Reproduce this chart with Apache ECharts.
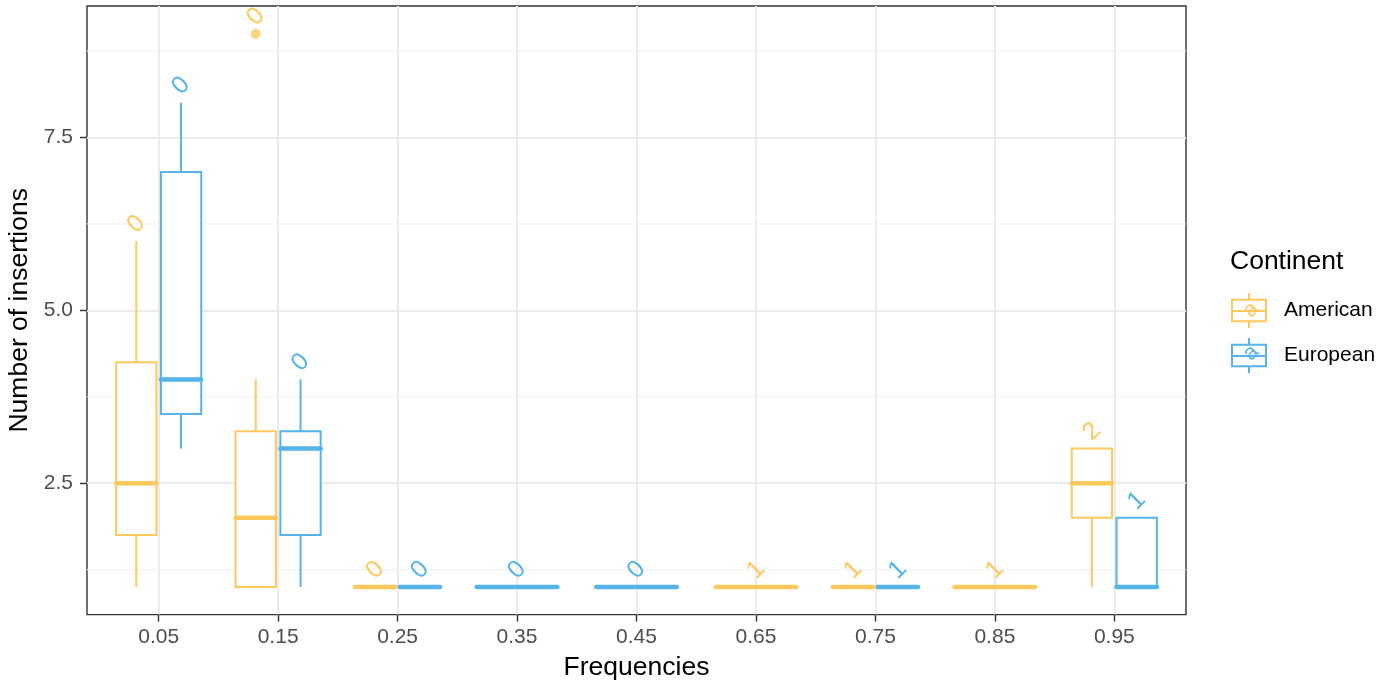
<!DOCTYPE html>
<html>
<head>
<meta charset="utf-8">
<script src="https://cdn.jsdelivr.net/npm/echarts@6/dist/echarts.min.js"></script>
<style>html,body{margin:0;padding:0;background:#fff}#c{width:1393px;height:684px}</style>
</head>
<body>
<div id="c"></div>
<script>
// ---------------- data ----------------
const categories = ['0.05','0.15','0.25','0.35','0.45','0.65','0.75','0.85','0.95'];
const groupNames = ['American','European'];
// [min, q1, median, q3, max] per category; null = group absent
const americanBoxes = [[1,1.75,2.5,4.25,6],[1,1,2,3.25,4],[1,1,1,1,1],null,null,[1,1,1,1,1],[1,1,1,1,1],[1,1,1,1,1],[1,2,2.5,3,3]];
const europeanBoxes = [[3,3.5,4,7,8],[1,1.75,3,3.25,4],[1,1,1,1,1],[1,1,1,1,1],[1,1,1,1,1],null,[1,1,1,1,1],null,[1,1,1,2,2]];
const americanLabels = ['0','0','0',null,null,'1','1','1','2'];
const europeanLabels = ['0','0','0','0','0',null,'1',null,'1'];
const americanOutliers = [['0.15', 9]];
const europeanOutliers = [];
const yTicks = [2.5, 5.0, 7.5];
const yMinorGrid = [1.25, 3.75, 6.25, 8.75];
const yRange = [0.6, 9.4];
const xRange = [-0.6, 8.6];

// ---------------- styles ----------------
const COLORS = {American: '#FFC85C', European: '#56B4E9'};
const FONT = '"Liberation Sans", Arial, Helvetica, sans-serif';
const DODGE = 0.75, PAD = 0.1;

const allBoxes = [americanBoxes, europeanBoxes];
function buildItems(boxes, labels, outliers, gi) {
  const out = [];
  boxes.forEach((b, i) => {
    if (!b) return;
    const present = allBoxes.filter(bx => bx[i]).length;
    const idx = present === 1 ? 0 : gi;
    const slot = DODGE / present;
    const center = i - DODGE / 2 + slot * (idx + 0.5);
    const hw = slot * (1 - PAD) / 2;
    const outl = outliers.filter(o => o[0] === categories[i]).map(o => o[1]);
    const top = Math.max(b[4], ...outl);
    out.push({num: [center, b[0], b[1], b[2], b[3], b[4], hw, top], label: labels[i], outl: outl, center: center});
  });
  return out;
}
const amItems = buildItems(americanBoxes, americanLabels, americanOutliers, 0);
const euItems = buildItems(europeanBoxes, europeanLabels, europeanOutliers, 1);

function makeRender(items, color) {
  return function (params, api) {
    const it = items[params.dataIndex];
    const [cx, mn, q1, md, q3, mx, hw, top] = it.num;
    const pc = v => api.coord([cx, v]);
    const ls = {stroke: color, lineWidth: 2, fill: null};
    const children = [];
    const a = pc(mx), b = pc(q3), c = pc(q1), d = pc(mn);
    children.push({type: 'line', shape: {x1: a[0], y1: a[1], x2: b[0], y2: b[1]}, style: ls});
    children.push({type: 'line', shape: {x1: c[0], y1: c[1], x2: d[0], y2: d[1]}, style: ls});
    const tl = api.coord([cx - hw, q3]), br = api.coord([cx + hw, q1]);
    children.push({type: 'rect', shape: {x: tl[0], y: tl[1], width: br[0] - tl[0], height: br[1] - tl[1]},
      style: {stroke: color, lineWidth: 2, fill: '#ffffff'}});
    const m1 = api.coord([cx - hw, md]), m2 = api.coord([cx + hw, md]);
    children.push({type: 'line', shape: {x1: m1[0], y1: m1[1], x2: m2[0], y2: m2[1]},
      style: {stroke: color, lineWidth: 4.5, lineCap: 'round'}});
    if (it.label != null) {
      const t = api.coord([cx, top]);
      children.push({type: 'text', x: t[0], y: t[1] - 17, rotation: Math.PI / 4,
        style: {text: it.label, fill: color, font: '25px ' + FONT, align: 'center', verticalAlign: 'middle'}});
    }
    return {type: 'group', children: children};
  };
}

function boxSeries(name, items) {
  return {
    name: name, type: 'custom', z: 3, silent: true,
    itemStyle: {color: COLORS[name]},
    encode: {x: 0, y: [1, 2, 3, 4, 5, 7]},
    data: items.map(it => it.num),
    renderItem: makeRender(items, COLORS[name])
  };
}

const outlierData = [];
amItems.forEach(it => it.outl.forEach(v => outlierData.push([it.center, v])));

const legendIcon = 'path://M0 6.7H34V28.3H0Z M0 18H34 M17 0V6.7 M17 28.3V35';

const option = {
  animation: false,
  backgroundColor: '#ffffff',
  textStyle: {fontFamily: FONT},
  title: {
    text: 'Continent', left: 1230, top: 248, padding: 0,
    textStyle: {fontSize: 26.5, fontWeight: 'normal', color: '#000', fontFamily: FONT}
  },
  legend: {
    orient: 'vertical', left: 1231, top: 292, padding: 0,
    itemWidth: 34, itemHeight: 35, itemGap: 8,
    textStyle: {fontSize: 21, color: '#000', fontFamily: FONT, padding: [0, 0, 0, 13]},
    selectedMode: false,
    data: groupNames.map(n => ({
      name: n, icon: legendIcon,
      itemStyle: {color: 'rgba(0,0,0,0)', borderColor: COLORS[n], borderWidth: 2}
    }))
  },
  graphic: groupNames.map((n, k) => ({
    type: 'text', x: 1251, y: 310 + 43 * k, rotation: Math.PI / 4, silent: true,
    style: {text: 'a', fill: COLORS[n], font: '22px ' + FONT, align: 'center', verticalAlign: 'middle'}
  })),
  grid: {
    left: 87, right: 207, top: 6, bottom: 69.4,
    outerBoundsMode: 'none', containLabel: false,
    show: true, borderColor: '#333333', borderWidth: 1.4, backgroundColor: 'transparent'
  },
  xAxis: {
    type: 'value', min: xRange[0], max: xRange[1],
    name: 'Frequencies', nameLocation: 'middle', nameGap: 40,
    nameTextStyle: {fontSize: 26.5, color: '#000', fontFamily: FONT},
    axisLine: {show: false, onZero: false},
    axisTick: {show: true, length: 7, customValues: categories.map((c, i) => i), lineStyle: {color: '#333', width: 1.4}},
    axisLabel: {customValues: categories.map((c, i) => i), formatter: v => categories[Math.round(v)],
      fontSize: 21, color: '#4D4D4D', margin: 12, fontFamily: FONT},
    splitLine: {show: true, lineStyle: {color: '#EBEBEB', width: 2}}
  },
  yAxis: {
    type: 'value', min: yRange[0], max: yRange[1],
    name: 'Number of insertions', nameLocation: 'middle', nameGap: 48, nameRotate: 90,
    nameTextStyle: {fontSize: 26.5, color: '#000', fontFamily: FONT},
    axisLine: {show: false, onZero: false},
    axisTick: {show: true, length: 7, customValues: yTicks, lineStyle: {color: '#333', width: 1.4}},
    axisLabel: {customValues: yTicks, formatter: v => v.toFixed(1), fontSize: 21, color: '#4D4D4D', margin: 14, fontFamily: FONT},
    splitLine: {show: true, lineStyle: {color: '#EBEBEB', width: 2}}
  },
  series: [
    {
      name: 'minorGrid', type: 'custom', z: 1, silent: true,
      data: yMinorGrid.map(v => [v]),
      encode: {y: 0},
      renderItem: function (params, api) {
        const v = api.value(0);
        const p1 = api.coord([xRange[0], v]), p2 = api.coord([xRange[1], v]);
        return {type: 'line', shape: {x1: p1[0], y1: p1[1], x2: p2[0], y2: p2[1]},
          style: {stroke: '#F2F2F2', lineWidth: 1.2}};
      }
    },
    boxSeries('American', amItems),
    boxSeries('European', euItems),
    {
      name: 'American', type: 'scatter', z: 4, silent: true,
      symbol: 'circle', symbolSize: 10,
      itemStyle: {color: COLORS.American},
      data: outlierData
    }
  ]
};

const chart = echarts.init(document.getElementById('c'), null, {renderer: 'canvas'});
chart.setOption(option);
</script>
</body>
</html>
